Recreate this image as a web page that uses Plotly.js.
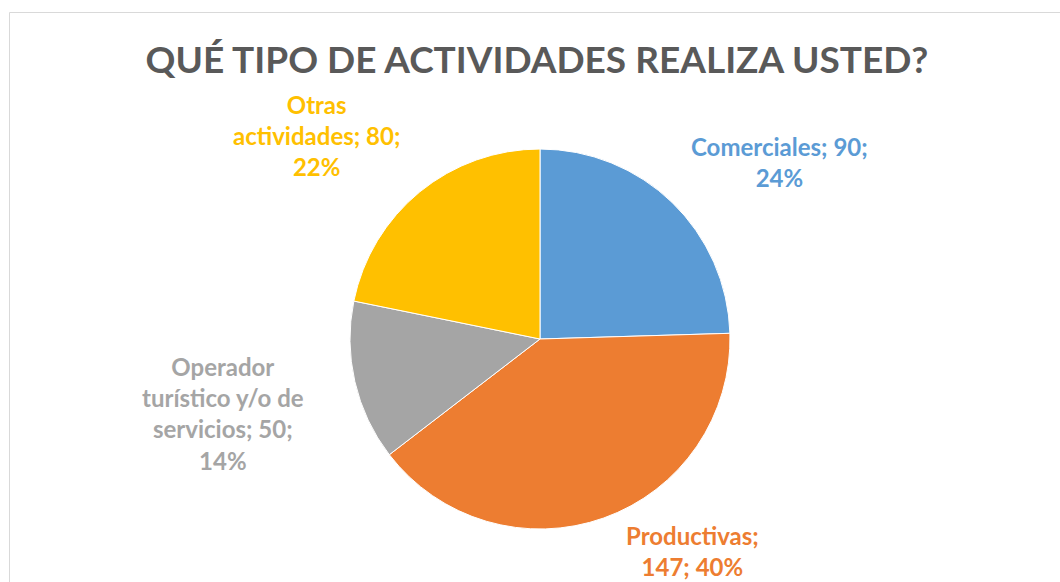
<!DOCTYPE html>
<html>
<head>
<meta charset="utf-8">
<script src="https://cdn.plot.ly/plotly-3.0.1.min.js"></script>
<style>html,body{margin:0;padding:0;background:#fff;}#chart{width:1060px;height:582px;}</style>
</head>
<body>
<div id="chart"></div>
<script>
var categories = ["Comerciales", "Productivas", "Operador turístico y/o de servicios", "Otras actividades"];
var values = [90, 147, 50, 80];
var percentLabels = ["24%", "40%", "14%", "22%"];
var colors = ["#5B9BD5", "#ED7D31", "#A5A5A5", "#FFC000"];
var labelLines = [
  ["Comerciales; 90;", "24%"],
  ["Productivas;", "147; 40%"],
  ["Operador", "turístico y/o de", "servicios; 50;", "14%"],
  ["Otras", "actividades; 80;", "22%"]
];
var labelPos = [[779, 162], [692, 551], [223, 413], [316, 135]];

var W = 1060, H = 582;
var cx = 540, cy = 339, r = 190;
var font = "Lato, 'Open Sans', sans-serif";

var annotations = labelLines.map(function (lines, i) {
  return {
    xref: "paper", yref: "paper",
    x: labelPos[i][0] / W, y: 1 - labelPos[i][1] / H,
    xanchor: "center", yanchor: "middle", align: "center",
    showarrow: false,
    text: "<b>" + lines.join("<br>") + "</b>",
    font: {family: font, size: 24, color: colors[i]}
  };
});

var trace = {
  type: "pie",
  labels: categories,
  values: values,
  text: percentLabels,
  sort: false,
  direction: "clockwise",
  rotation: 0,
  textinfo: "none",
  hoverinfo: "label+value+text",
  marker: {colors: colors, line: {color: "#ffffff", width: 1}},
  domain: {
    x: [(cx - r) / W, (cx + r) / W],
    y: [(H - cy - r) / H, (H - cy + r) / H]
  },
  showlegend: false
};

var layout = {
  width: W, height: H,
  margin: {l: 0, r: 0, t: 0, b: 0},
  paper_bgcolor: "#ffffff",
  title: {
    text: "<b>QUÉ TIPO DE ACTIVIDADES REALIZA USTED?</b>",
    font: {family: font, size: 37, color: "#595959"},
    x: 537 / W, xanchor: "center",
    y: 1 - 60 / H, yanchor: "middle", xref: "paper", yref: "paper"
  },
  annotations: annotations,
  shapes: [{
    type: "rect", xref: "paper", yref: "paper",
    x0: 9.5 / W, x1: 1.05, y0: -0.05, y1: 1 - 12.5 / H,
    line: {color: "#D9D9D9", width: 1}, fillcolor: "rgba(0,0,0,0)", layer: "below"
  }]
};

Plotly.newPlot("chart", [trace], layout, {displayModeBar: false, staticPlot: true});
</script>
</body>
</html>
